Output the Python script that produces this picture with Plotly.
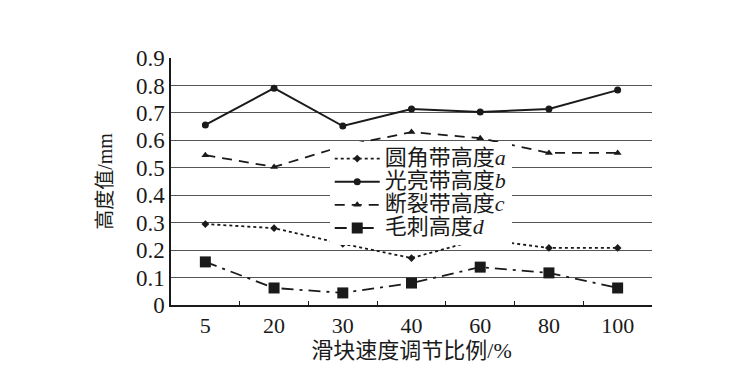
import plotly.graph_objects as go

categories = ["5", "20", "30", "40", "60", "80", "100"]
a_vals = [0.295, 0.28, 0.223, 0.171, 0.24, 0.208, 0.208]
b_vals = [0.656, 0.79, 0.652, 0.714, 0.703, 0.714, 0.783]
c_vals = [0.546, 0.503, 0.579, 0.63, 0.608, 0.554, 0.554]
d_vals = [0.157, 0.062, 0.044, 0.08, 0.138, 0.117, 0.062]
series_names = ["圆角带高度", "光亮带高度", "断裂带高度", "毛刺高度"]
series_letters = ["a", "b", "c", "d"]
y_ticks = [0, 0.1, 0.2, 0.3, 0.4, 0.5, 0.6, 0.7, 0.8, 0.9]
y_tick_text = ["0", "0.1", "0.2", "0.3", "0.4", "0.5", "0.6", "0.7", "0.8", "0.9"]

FONT = "Liberation Serif, Noto Sans CJK SC, serif"
INK = "#1a1a1a"


def lname(i):
    return ('<span style="font-size:22px">' + series_names[i] +
            "<i>" + series_letters[i] + "</i></span>")


fig = go.Figure()
fig.add_trace(go.Scatter(
    x=categories, y=a_vals, name=lname(0), mode="lines+markers",
    line=dict(color=INK, width=1.8, dash="dot"),
    marker=dict(symbol="diamond", size=6, color=INK)))
fig.add_trace(go.Scatter(
    x=categories, y=b_vals, name=lname(1), mode="lines+markers",
    line=dict(color=INK, width=2),
    marker=dict(symbol="circle", size=7, color=INK)))
fig.add_trace(go.Scatter(
    x=categories, y=c_vals, name=lname(2), mode="lines+markers",
    line=dict(color=INK, width=1.8, dash="10px,7px"),
    marker=dict(symbol="triangle-up", size=7, color=INK)))
fig.add_trace(go.Scatter(
    x=categories, y=d_vals, name=lname(3), mode="lines+markers",
    line=dict(color=INK, width=1.8, dash="12px,6px,3px,6px"),
    marker=dict(symbol="square", size=11, color=INK)))

fig.update_layout(
    width=750, height=383,
    margin=dict(l=171, r=98, t=58, b=78),
    paper_bgcolor="white", plot_bgcolor="white",
    font=dict(family=FONT, size=18, color=INK),
    showlegend=True,
    legend=dict(x=0.33, y=0.66, xanchor="left", yanchor="top",
                bgcolor="white", borderwidth=0,
                font=dict(family=FONT, size=15.5, color=INK),
                tracegroupgap=0, itemwidth=45),
)
fig.update_xaxes(
    type="category", showgrid=False, showline=True, linecolor=INK, linewidth=1.5,
    ticks="inside", ticklen=4, tickcolor=INK, tickson="boundaries",
    tickfont=dict(family=FONT, size=22, color=INK),
    title=dict(text="滑块速度调节比例/%", font=dict(family=FONT, size=22, color=INK), standoff=4),
    range=[-0.5, 6.5], zeroline=False,
)
fig.update_yaxes(
    range=[0, 0.9], tickvals=y_ticks, ticktext=y_tick_text,
    showgrid=True, gridcolor="#555555", gridwidth=1.3,
    showline=True, linecolor=INK, linewidth=1.5, ticks="", zeroline=False,
    tickfont=dict(family=FONT, size=23, color=INK),
    title=dict(text="高度值/mm", font=dict(family=FONT, size=20, color=INK), standoff=18),
)

fig.write_html("out.html")
